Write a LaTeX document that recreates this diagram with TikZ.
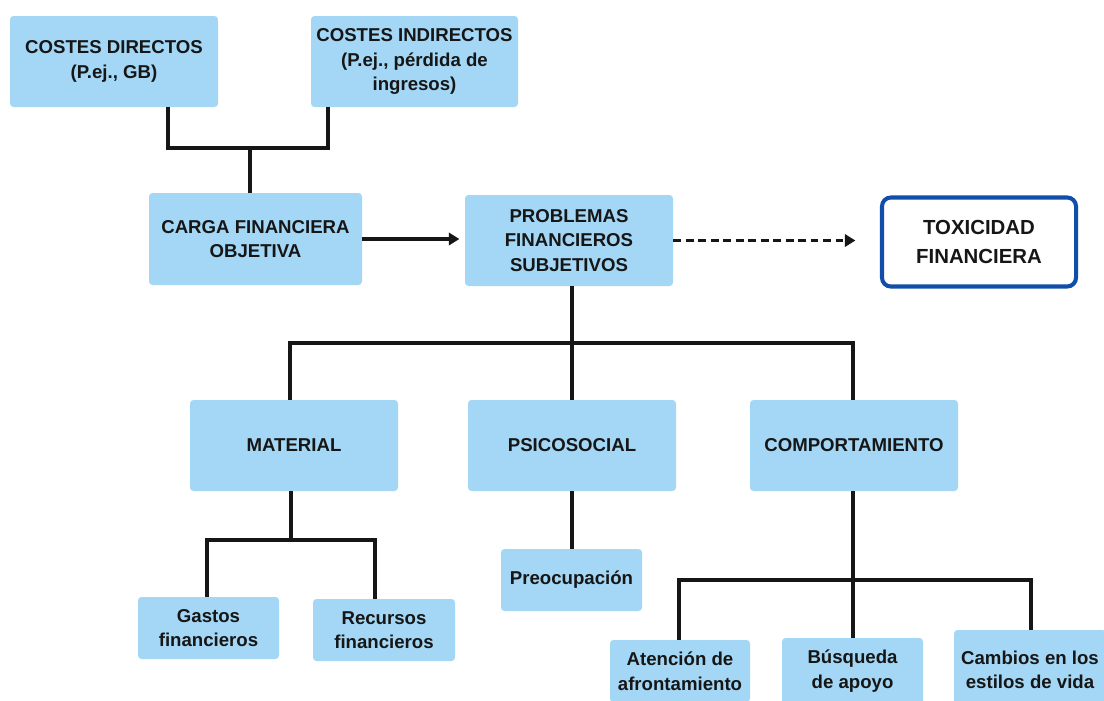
\documentclass[tikz,border=0pt]{standalone}
\usepackage{fontspec}
\setmainfont{Liberation Sans}
\usetikzlibrary{arrows.meta}

\definecolor{boxblue}{RGB}{163,215,245}
\definecolor{toxblue}{RGB}{16,78,170}
\definecolor{ink}{RGB}{22,22,22}

\tikzset{
  box/.style 2 args={rectangle, rounded corners=2pt, fill=boxblue,
    minimum width=#1*0.02cm, minimum height=#2*0.02cm, inner sep=0pt,
    align=center, text=ink, font=\fontsize{10.6}{14}\selectfont\bfseries},
  link/.style={line width=1.8pt, draw=ink},
}

\begin{document}
\begin{tikzpicture}[x=0.02cm, y=-0.02cm]
   \useasboundingbox (0,0) rectangle (1104,700);

   % boxes
   \node[box={208}{91}] (cd) at (114,61.5) {COSTES DIRECTOS\\(P.ej., GB)};
   \node[box={207}{91}] (ci) at (414.5,61.5) {COSTES INDIRECTOS\\(P.ej., pérdida de\\ingresos)};
   \node[box={213}{92}] (carga) at (255.5,239) {CARGA FINANCIERA\\OBJETIVA};
   \node[box={208}{91}] (prob) at (569,240.5) {PROBLEMAS\\FINANCIEROS\\SUBJETIVOS};
   \node[rectangle, rounded corners=5pt, draw=toxblue, line width=2.3pt, fill=white,
         minimum width=194*0.02cm, minimum height=89*0.02cm, align=center, text=ink,
         font=\fontsize{11.6}{17}\selectfont\bfseries] (tox) at (979,242) {TOXICIDAD\\FINANCIERA};

   \node[box={208}{91}] (mat) at (294,445.5) {MATERIAL};
   \node[box={208}{91}] (psico) at (572,445.5) {PSICOSOCIAL};
   \node[box={208}{91}] (comp) at (854,445.5) {COMPORTAMIENTO};

   \node[box={141}{62}] (gastos) at (208.5,628) {Gastos\\financieros};
   \node[box={142}{62}] (recursos) at (384,630) {Recursos\\financieros};
   \node[box={141}{62}] (preo) at (571.5,580) {Preocupación};
   \node[box={140}{62}] (aten) at (680,671) {Atención de\\afrontamiento};
   \node[box={141}{66}] (busq) at (852.5,671) {Búsqueda\\de apoyo};
   \node[box={152}{80}] (camb) at (1030,670) {Cambios en los\\estilos de vida};

   % junctions
   \coordinate (b1l) at (168,148);
   \coordinate (b1m) at (250,148);
   \coordinate (b1r) at (328,148);
   \coordinate (b2l) at (290,343);
   \coordinate (b2m) at (572,343);
   \coordinate (b2r) at (853,343);
   \coordinate (b3l) at (207,540);
   \coordinate (b3m) at (291,540);
   \coordinate (b3r) at (375,540);
   \coordinate (b4l) at (679,580);
   \coordinate (b4m) at (853,580);
   \coordinate (b4r) at (1031,580);

   % connectors
   \draw[link] (cd.south -| b1l) -- (b1l) -- (b1r) -- (ci.south -| b1r);
   \draw[link] (b1m) -- (carga.north -| b1m);

   \draw[link, -{Triangle[length=6pt, width=7pt]}, shorten >=3pt] (carga.east) -- (carga.east -| prob.west);
   \draw[link, dash pattern=on 4.5pt off 2.6pt, -{Triangle[length=6pt, width=7pt]},
         shorten >=14pt] (prob) -- (prob -| tox.west);

   \draw[link] (prob.south -| b2m) -- (b2m);
   \draw[link] (mat.north -| b2l) -- (b2l) -- (b2r) -- (comp.north -| b2r);
   \draw[link] (b2m) -- (psico.north -| b2m);

   \draw[link] (mat.south -| b3m) -- (b3m);
   \draw[link] (gastos.north -| b3l) -- (b3l) -- (b3r) -- (recursos.north -| b3r);

   \draw[link] (psico.south) -- (preo.north -| psico.south);

   \draw[link] (comp.south -| b4m) -- (b4m);
   \draw[link] (aten.north -| b4l) -- (b4l) -- (b4r) -- (camb.north -| b4r);
   \draw[link] (b4m) -- (busq.north -| b4m);
\end{tikzpicture}
\end{document}
